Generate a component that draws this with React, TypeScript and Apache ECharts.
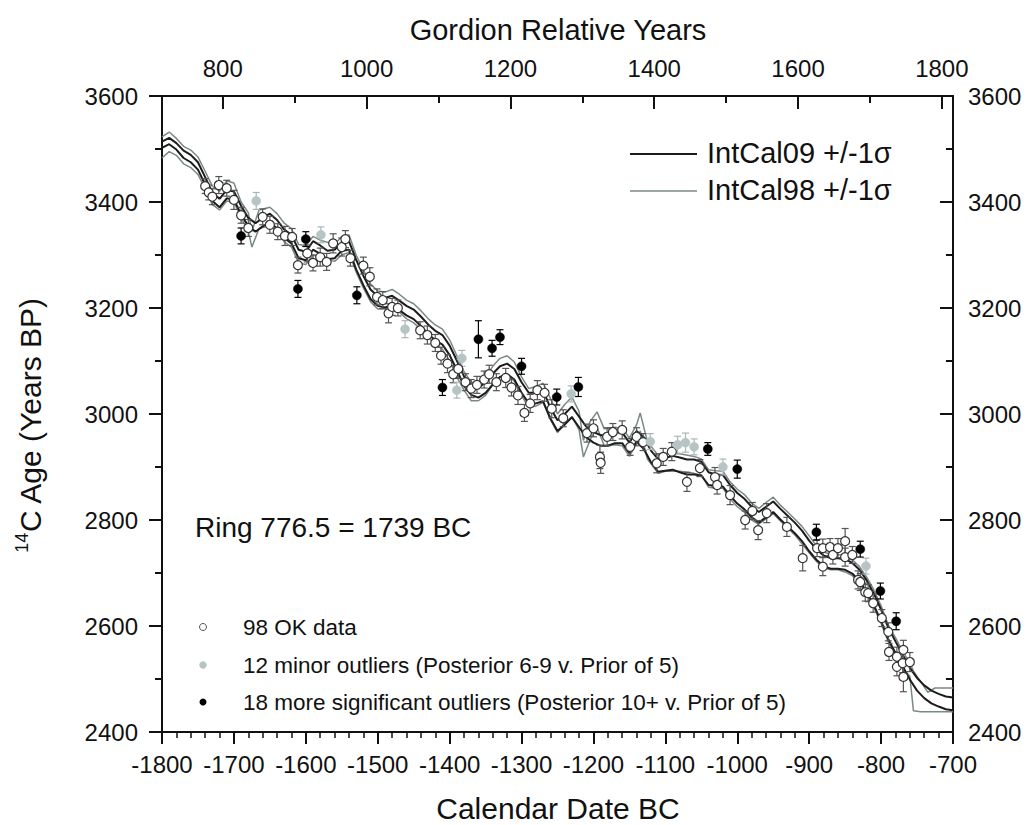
import React, { useEffect, useRef } from "react";
import * as echarts from "echarts";

const FONT = "'Liberation Sans', Arial, Helvetica, sans-serif";

// Calendar axis (bottom) and Gordion relative-year axis (top)
const calendarMin = -1800;
const calendarMax = -700;
const gordionMin = 715.5;
const gordionMax = 1815.5;
const gordionMajorTicks = [800, 1000, 1200, 1400, 1600, 1800];
const gordionMinorTicks = [900, 1100, 1300, 1500, 1700];
const ageMin = 2400;
const ageMax = 3600;

// IntCal09: [year, mean 14C age, 1 sigma]
const intcal09: number[][] = [
  [-1800, 3508, 6], [-1790, 3515, 6], [-1780, 3505, 6], [-1770, 3490, 7], [-1760, 3482, 7], [-1750, 3468, 7], [-1740, 3440, 7], [-1730, 3410, 8], [-1720, 3398, 8], [-1710, 3415, 8], [-1700, 3412, 8],
  [-1690, 3385, 8], [-1680, 3362, 8], [-1670, 3352, 8], [-1660, 3362, 8], [-1650, 3370, 8], [-1640, 3358, 8], [-1630, 3340, 8], [-1620, 3330, 8], [-1610, 3302, 8], [-1600, 3298, 8],
  [-1590, 3318, 8], [-1580, 3310, 8], [-1570, 3300, 8], [-1560, 3302, 8], [-1550, 3316, 8], [-1540, 3318, 8], [-1530, 3282, 9], [-1520, 3252, 9], [-1510, 3226, 9], [-1500, 3213, 9],
  [-1490, 3210, 9], [-1480, 3214, 9], [-1470, 3205, 9], [-1460, 3195, 9], [-1450, 3188, 9], [-1440, 3175, 9], [-1430, 3160, 9], [-1420, 3148, 9], [-1410, 3140, 9], [-1400, 3120, 9],
  [-1390, 3092, 9], [-1380, 3062, 9], [-1370, 3045, 9], [-1360, 3040, 9], [-1350, 3050, 10], [-1340, 3066, 10], [-1330, 3080, 10], [-1320, 3085, 10], [-1310, 3075, 10], [-1300, 3050, 10],
  [-1290, 3030, 10], [-1280, 3030, 10], [-1270, 3034, 10], [-1260, 3002, 10], [-1250, 2978, 10], [-1240, 2990, 10], [-1230, 3004, 10], [-1220, 2985, 10], [-1210, 2966, 10], [-1200, 2956, 10],
  [-1190, 2950, 10], [-1180, 2950, 10], [-1170, 2955, 10], [-1160, 2955, 10], [-1150, 2936, 10], [-1140, 2958, 10], [-1130, 2945, 11], [-1120, 2920, 11], [-1110, 2903, 12], [-1100, 2905, 12],
  [-1090, 2908, 13], [-1080, 2904, 14], [-1070, 2900, 14], [-1060, 2900, 14], [-1050, 2897, 13], [-1040, 2878, 12], [-1030, 2875, 11], [-1020, 2874, 11], [-1010, 2856, 10], [-1000, 2841, 10],
  [-990, 2830, 10], [-980, 2815, 10], [-970, 2805, 10], [-960, 2815, 10], [-950, 2825, 10], [-940, 2811, 10], [-930, 2798, 10], [-920, 2785, 10], [-910, 2770, 10], [-900, 2751, 10],
  [-890, 2735, 10], [-880, 2723, 10], [-870, 2718, 10], [-860, 2718, 10], [-850, 2716, 10], [-840, 2709, 10], [-830, 2695, 11], [-820, 2675, 11], [-810, 2650, 11], [-800, 2620, 11],
  [-790, 2586, 11], [-780, 2560, 11], [-770, 2535, 11], [-760, 2510, 11], [-750, 2490, 12], [-740, 2476, 12], [-730, 2466, 12], [-720, 2460, 12], [-710, 2455, 12], [-700, 2453, 12],
];

// IntCal98: [year, lower (-1 sigma), upper (+1 sigma)]
const intcal98: number[][] = [
  [-1800, 3483, 3523], [-1790, 3495, 3532], [-1780, 3488, 3520], [-1770, 3472, 3505], [-1760, 3465, 3498], [-1750, 3452, 3485], [-1740, 3425, 3458], [-1730, 3395, 3430], [-1720, 3385, 3420],
  [-1710, 3402, 3440], [-1700, 3400, 3436], [-1690, 3370, 3400], [-1680, 3345, 3380], [-1675, 3315, 3345], [-1665, 3350, 3385], [-1650, 3355, 3390], [-1640, 3345, 3378], [-1630, 3325, 3360],
  [-1620, 3315, 3350], [-1610, 3285, 3320], [-1600, 3282, 3318], [-1590, 3300, 3335], [-1580, 3295, 3328], [-1560, 3288, 3320], [-1550, 3300, 3335], [-1540, 3305, 3338], [-1530, 3268, 3300],
  [-1520, 3238, 3272], [-1510, 3212, 3245], [-1500, 3198, 3232], [-1490, 3198, 3230], [-1480, 3200, 3235], [-1470, 3192, 3226], [-1460, 3180, 3215], [-1450, 3172, 3208], [-1440, 3160, 3195],
  [-1430, 3145, 3180], [-1420, 3132, 3168], [-1410, 3122, 3160], [-1400, 3100, 3140], [-1390, 3070, 3110], [-1380, 3045, 3080], [-1370, 3025, 3060], [-1360, 3025, 3058], [-1350, 3035, 3070],
  [-1340, 3055, 3090], [-1330, 3070, 3105], [-1320, 3075, 3110], [-1310, 3062, 3098], [-1300, 3035, 3070], [-1290, 3012, 3048], [-1280, 3015, 3052], [-1270, 3022, 3058], [-1260, 2990, 3030],
  [-1250, 2965, 3000], [-1240, 2980, 3018], [-1230, 2995, 3032], [-1220, 2970, 3005], [-1214, 2919, 2950], [-1205, 2950, 2985], [-1195, 2975, 3004], [-1185, 2940, 2972], [-1170, 2942, 2975],
  [-1160, 2940, 2972], [-1150, 2920, 2955], [-1140, 2945, 2980], [-1135, 2968, 3002], [-1125, 2915, 2948], [-1110, 2888, 2922], [-1100, 2892, 2926], [-1080, 2892, 2925], [-1060, 2888, 2920],
  [-1050, 2885, 2915], [-1040, 2862, 2895], [-1030, 2860, 2893], [-1020, 2860, 2892], [-1010, 2840, 2872], [-1000, 2825, 2858], [-990, 2815, 2848], [-980, 2800, 2832], [-970, 2792, 2822],
  [-960, 2802, 2833], [-950, 2812, 2843], [-940, 2798, 2828], [-930, 2785, 2815], [-920, 2772, 2802], [-910, 2755, 2788], [-900, 2738, 2770], [-890, 2722, 2752], [-880, 2710, 2740],
  [-870, 2706, 2735], [-860, 2706, 2735], [-850, 2702, 2732], [-840, 2695, 2725], [-830, 2680, 2712], [-820, 2660, 2692], [-810, 2635, 2668], [-800, 2605, 2638], [-790, 2570, 2602],
  [-780, 2545, 2578], [-770, 2520, 2552], [-760, 2505, 2530], [-755, 2440, 2515], [-745, 2438, 2495], [-735, 2438, 2475], [-725, 2438, 2483], [-700, 2438, 2483],
];

// Gordion samples: [calendar year, 14C age, error]
const okData: number[][] = [
  [-1740, 3430, 14], [-1735, 3418, 14], [-1730, 3410, 15], [-1721, 3432, 16], [-1710, 3426, 15], [-1700, 3404, 18], [-1690, 3375, 15], [-1680, 3351, 16], [-1660, 3372, 15], [-1650, 3357, 16],
  [-1639, 3344, 15], [-1629, 3336, 18], [-1619, 3334, 16], [-1611, 3281, 15], [-1598, 3303, 16], [-1590, 3285, 15], [-1580, 3296, 17], [-1571, 3287, 16], [-1562, 3322, 18], [-1550, 3315, 17],
  [-1545, 3330, 16], [-1538, 3294, 15], [-1520, 3280, 16], [-1511, 3259, 17], [-1501, 3221, 15], [-1493, 3215, 16], [-1485, 3190, 18], [-1480, 3202, 16], [-1472, 3200, 15], [-1441, 3158, 16],
  [-1431, 3149, 17], [-1420, 3134, 16], [-1412, 3110, 16], [-1403, 3095, 17], [-1395, 3075, 16], [-1388, 3085, 18], [-1378, 3060, 16], [-1370, 3048, 17], [-1362, 3055, 16], [-1352, 3065, 16],
  [-1345, 3075, 17], [-1335, 3060, 16], [-1322, 3068, 18], [-1314, 3050, 16], [-1305, 3035, 17], [-1296, 3002, 16], [-1288, 3020, 17], [-1278, 3045, 18], [-1268, 3040, 16], [-1258, 3010, 17],
  [-1242, 2992, 16], [-1209, 2964, 17], [-1200, 2973, 16], [-1191, 2919, 22], [-1190, 2908, 20], [-1181, 2957, 17], [-1173, 2966, 16], [-1160, 2970, 17], [-1149, 2938, 16], [-1140, 2957, 17],
  [-1131, 2947, 16], [-1112, 2907, 18], [-1103, 2919, 16], [-1091, 2929, 17], [-1070, 2872, 18], [-1052, 2898, 16], [-1031, 2881, 18], [-1028, 2866, 17], [-1010, 2847, 18], [-989, 2800, 17],
  [-979, 2817, 16], [-971, 2781, 18], [-959, 2813, 18], [-931, 2787, 18], [-909, 2728, 24], [-889, 2747, 16], [-881, 2747, 17], [-881, 2712, 17], [-871, 2749, 16], [-867, 2734, 17],
  [-860, 2747, 18], [-850, 2760, 24], [-850, 2730, 17], [-840, 2734, 16], [-832, 2687, 17], [-829, 2683, 16], [-822, 2664, 17], [-818, 2662, 16], [-811, 2643, 17], [-799, 2615, 16],
  [-790, 2589, 17], [-789, 2551, 16], [-778, 2542, 18], [-778, 2523, 17], [-770, 2530, 18], [-769, 2555, 18], [-769, 2504, 28], [-760, 2532, 18],
];

const minorOutliers: number[][] = [
  [-1669, 3402, 16], [-1579, 3338, 15], [-1462, 3160, 16], [-1383, 3105, 15], [-1390, 3045, 15], [-1231, 3038, 15],
  [-1121, 2948, 15], [-1083, 2942, 16], [-1072, 2946, 18], [-1060, 2938, 15], [-1020, 2900, 15], [-821, 2713, 15],
];

const majorOutliers: number[][] = [
  [-1690, 3336, 15], [-1611, 3236, 16], [-1600, 3330, 14], [-1529, 3224, 16], [-1410, 3050, 15], [-1360, 3141, 35],
  [-1341, 3124, 15], [-1330, 3145, 14], [-1300, 3090, 15], [-1251, 3032, 15], [-1221, 3051, 18], [-1041, 2934, 12],
  [-1000, 2896, 17], [-890, 2777, 15], [-829, 2745, 15], [-801, 2666, 15], [-779, 2609, 16],
];

const legendCurves = ["IntCal09 +/-1\u03c3", "IntCal98 +/-1\u03c3"];
const legendPoints = [
  "98 OK data",
  "12 minor outliers (Posterior 6-9 v. Prior of 5)",
  "18 more significant outliers (Posterior 10+ v. Prior of 5)",
];

const INK = "#111111";
const DARK_LINE = "#1c1c1c";
const GRAY_LINE = "#7b8888";
const GRAY_FILL = "#b6c4c4";

function errorBarSeries(data: number[][], color: string, z: number) {
  return {
    type: "custom",
    xAxisIndex: 0,
    yAxisIndex: 0,
    z,
    silent: true,
    data,
    encode: { x: 0, y: 1 },
    renderItem: (params: any, api: any) => {
      const x = api.value(0);
      const y = api.value(1);
      const e = api.value(2);
      const top = api.coord([x, y + e]);
      const bot = api.coord([x, y - e]);
      const hw = 3.5;
      const style = { stroke: color, lineWidth: 1.2 };
      return {
        type: "group",
        children: [
          { type: "line", shape: { x1: top[0], y1: top[1], x2: bot[0], y2: bot[1] }, style },
          { type: "line", shape: { x1: top[0] - hw, y1: top[1], x2: top[0] + hw, y2: top[1] }, style },
          { type: "line", shape: { x1: bot[0] - hw, y1: bot[1], x2: bot[0] + hw, y2: bot[1] }, style },
        ],
      };
    },
  };
}

function lineSeries(data: number[][], color: string, width: number, z: number) {
  return {
    type: "line",
    xAxisIndex: 0,
    yAxisIndex: 0,
    data,
    showSymbol: false,
    symbol: "none",
    z,
    silent: true,
    lineStyle: { color, width },
  };
}

function pointSeries(data: number[][], itemStyle: any) {
  return {
    type: "scatter",
    xAxisIndex: 0,
    yAxisIndex: 0,
    z: 5,
    silent: true,
    data: data.map((d) => [d[0], d[1]]),
    symbol: "circle",
    symbolSize: 9,
    itemStyle: { opacity: 1, ...itemStyle },
  };
}

export default function App() {
  const ref = useRef<HTMLDivElement>(null);

  useEffect(() => {
    if (!ref.current) return;
    const chart = echarts.init(ref.current, null, { renderer: "svg" });

    const axisLineStyle = { color: INK, width: 2 };
    const labelStyle = { fontSize: 24, color: INK, fontFamily: FONT };

    const option: any = {
      animation: false,
      backgroundColor: "#ffffff",
      grid: { left: 162, right: 73, top: 96, bottom: 93, containLabel: false },
      xAxis: [
        {
          type: "value",
          position: "bottom",
          min: calendarMin,
          max: calendarMax,
          interval: 100,
          axisLine: { show: true, onZero: false, lineStyle: axisLineStyle },
          axisTick: { show: true, inside: false, length: 12, lineStyle: { color: INK, width: 2 } },
          minorTick: { show: true, splitNumber: 5, length: 6, lineStyle: { color: INK, width: 1.5 } },
          axisLabel: { ...labelStyle, margin: 20, formatter: (v: number) => String(v) },
          splitLine: { show: false },
          minorSplitLine: { show: false },
        },
        {
          type: "value",
          position: "top",
          min: gordionMin,
          max: gordionMax,
          axisLine: { show: true, onZero: false, lineStyle: axisLineStyle },
          axisTick: { show: true, inside: true, length: 13, customValues: gordionMajorTicks, lineStyle: { color: INK, width: 2 } },
          axisLabel: { ...labelStyle, margin: 16, customValues: gordionMajorTicks, formatter: (v: number) => String(v) },
          splitLine: { show: false },
        },
        {
          type: "value",
          position: "top",
          min: gordionMin,
          max: gordionMax,
          axisLine: { show: false },
          axisTick: { show: true, inside: true, length: 7, customValues: gordionMinorTicks, lineStyle: { color: INK, width: 2 } },
          axisLabel: { show: false },
          splitLine: { show: false },
        },
      ],
      yAxis: [
        {
          type: "value",
          position: "left",
          min: ageMin,
          max: ageMax,
          interval: 200,
          axisLine: { show: true, onZero: false, lineStyle: axisLineStyle },
          axisTick: { show: true, inside: false, length: 13, lineStyle: { color: INK, width: 2 } },
          minorTick: { show: true, splitNumber: 2, length: 7, lineStyle: { color: INK, width: 2 } },
          axisLabel: { ...labelStyle, margin: 24, formatter: (v: number) => String(v) },
          splitLine: { show: false },
          minorSplitLine: { show: false },
        },
        {
          type: "value",
          position: "right",
          min: ageMin,
          max: ageMax,
          interval: 200,
          axisLine: { show: true, onZero: false, lineStyle: axisLineStyle },
          axisTick: { show: true, inside: true, length: 13, lineStyle: { color: INK, width: 2 } },
          minorTick: { show: true, splitNumber: 2, length: 7, lineStyle: { color: INK, width: 2 } },
          axisLabel: { ...labelStyle, margin: 15, formatter: (v: number) => String(v) },
          splitLine: { show: false },
          minorSplitLine: { show: false },
        },
      ],
      series: [
        lineSeries(intcal98.map((d) => [d[0], d[2]]), GRAY_LINE, 1.5, 2),
        lineSeries(intcal98.map((d) => [d[0], d[1]]), GRAY_LINE, 1.5, 2),
        lineSeries(intcal09.map((d) => [d[0], d[1] + d[2]]), DARK_LINE, 2, 3),
        lineSeries(intcal09.map((d) => [d[0], d[1] - d[2]]), DARK_LINE, 2, 3),
        errorBarSeries(okData, "#555555", 4),
        errorBarSeries(minorOutliers, "#aab6b6", 4),
        errorBarSeries(majorOutliers, "#000000", 4),
        pointSeries(okData, { color: "#ffffff", borderColor: "#333333", borderWidth: 1.2 }),
        pointSeries(minorOutliers, { color: GRAY_FILL, borderColor: GRAY_FILL, borderWidth: 0.5 }),
        pointSeries(majorOutliers, { color: "#000000", borderColor: "#000000", borderWidth: 0.5 }),
        { type: "line", xAxisIndex: 1, yAxisIndex: 0, data: [], silent: true },
        { type: "line", xAxisIndex: 2, yAxisIndex: 0, data: [], silent: true },
      ],
      graphic: [
        // axis titles
        {
          type: "text",
          x: 558,
          y: 30,
          style: { text: "Gordion Relative Years", fontSize: 29, fontFamily: FONT, fill: INK, textAlign: "center", textVerticalAlign: "middle" },
        },
        {
          type: "text",
          x: 558,
          y: 808,
          style: { text: "Calendar Date BC", fontSize: 30, fontFamily: FONT, fill: INK, textAlign: "center", textVerticalAlign: "middle" },
        },
        {
          type: "text",
          x: 30,
          y: 425,
          rotation: Math.PI / 2,
          style: {
            text: "{sup|14}{m|C Age (Years BP)}",
            fontFamily: FONT,
            fill: INK,
            textAlign: "center",
            textVerticalAlign: "middle",
            rich: {
              sup: { fontSize: 18, fontFamily: FONT, fill: INK, verticalAlign: "top", lineHeight: 34 },
              m: { fontSize: 30, fontFamily: FONT, fill: INK, lineHeight: 34 },
            },
          },
        },
        // annotation
        {
          type: "text",
          x: 195,
          y: 527,
          style: { text: "Ring 776.5 = 1739 BC", fontSize: 28, fontFamily: FONT, fill: INK, textAlign: "left", textVerticalAlign: "middle" },
        },
        // curve legend
        { type: "line", shape: { x1: 630, y1: 154, x2: 697, y2: 154 }, style: { stroke: DARK_LINE, lineWidth: 2 } },
        { type: "line", shape: { x1: 630, y1: 191, x2: 697, y2: 191 }, style: { stroke: GRAY_LINE, lineWidth: 1.5 } },
        {
          type: "text",
          x: 707,
          y: 153,
          style: { text: legendCurves[0], fontSize: 29, fontFamily: FONT, fill: INK, textAlign: "left", textVerticalAlign: "middle" },
        },
        {
          type: "text",
          x: 707,
          y: 190,
          style: { text: legendCurves[1], fontSize: 29, fontFamily: FONT, fill: INK, textAlign: "left", textVerticalAlign: "middle" },
        },
        // point legend
        { type: "circle", shape: { cx: 203, cy: 627, r: 3.5 }, style: { fill: "#ffffff", stroke: "#555555", lineWidth: 1 } },
        { type: "circle", shape: { cx: 203, cy: 665, r: 3.5 }, style: { fill: GRAY_FILL, stroke: GRAY_FILL, lineWidth: 0.5 } },
        { type: "circle", shape: { cx: 203, cy: 702, r: 3.5 }, style: { fill: "#000000" } },
        {
          type: "text",
          x: 243,
          y: 627,
          style: { text: legendPoints[0], fontSize: 22.5, fontFamily: FONT, fill: INK, textAlign: "left", textVerticalAlign: "middle" },
        },
        {
          type: "text",
          x: 243,
          y: 665,
          style: { text: legendPoints[1], fontSize: 22.5, fontFamily: FONT, fill: INK, textAlign: "left", textVerticalAlign: "middle" },
        },
        {
          type: "text",
          x: 243,
          y: 702,
          style: { text: legendPoints[2], fontSize: 22.5, fontFamily: FONT, fill: INK, textAlign: "left", textVerticalAlign: "middle" },
        },
      ],
    };

    chart.setOption(option);
    return () => {
      chart.dispose();
    };
  }, []);

  return (
    <div
      ref={ref}
      style={{ position: "fixed", left: 0, top: 0, width: 1026, height: 825, background: "#ffffff" }}
    />
  );
}
